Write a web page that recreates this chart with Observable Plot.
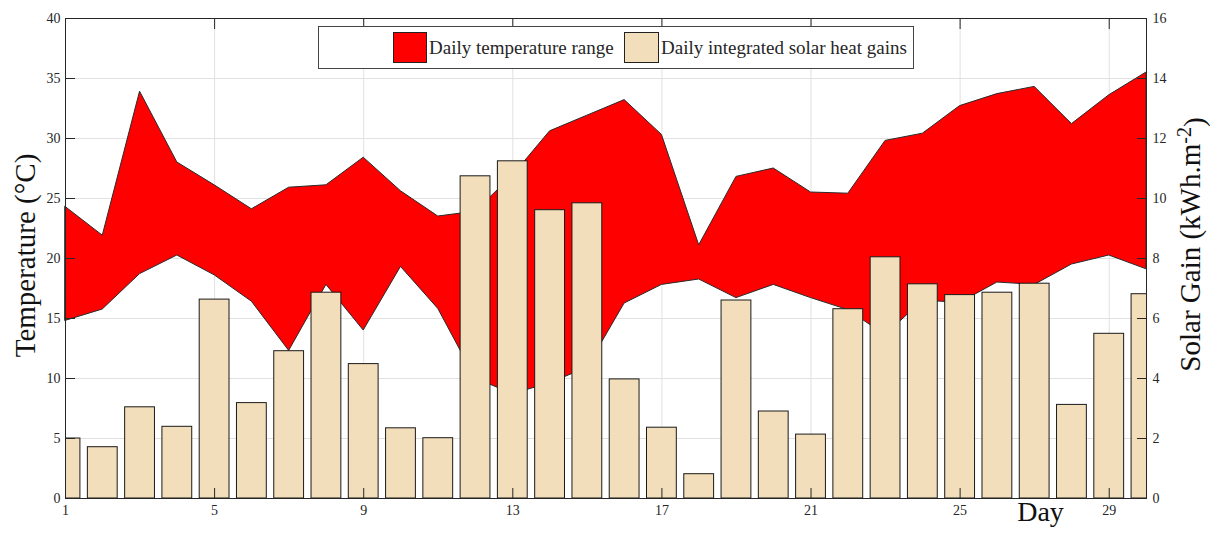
<!DOCTYPE html>
<html>
<head>
<meta charset="utf-8">
<script src="https://cdn.jsdelivr.net/npm/d3@7"></script>
<script src="https://cdn.jsdelivr.net/npm/@observablehq/plot@0.6"></script>
<style>
  html, body { margin: 0; padding: 0; background: #fff; }
  #wrap { position: relative; width: 1210px; height: 533px; font-family: "Liberation Serif", serif; }
  #legend { position: absolute; left: 318px; top: 26px; width: 596px; height: 43px; box-sizing: border-box;
            border: 1px solid #444; background: #fff; }
  .sw { position: absolute; top: 5px; height: 31px; box-sizing: border-box; border: 1px solid #222; }
  .lt { position: absolute; top: 0; height: 41px; line-height: 41px; font-size: 19px; color: #262626; white-space: nowrap; }
</style>
</head>
<body>
<div id="wrap">
  <div id="chart"></div>
  <div id="legend">
    <div class="sw" style="left:74px;width:34px;background:#ff0000"></div>
    <div class="lt" style="left:110px">Daily temperature range</div>
    <div class="sw" style="left:305px;width:35px;background:#f2deba"></div>
    <div class="lt" style="left:342px">Daily integrated solar heat gains</div>
  </div>
</div>
<script>
const days = [1,2,3,4,5,6,7,8,9,10,11,12,13,14,15,16,17,18,19,20,21,22,23,24,25,26,27,28,29,30];
const tMax = [24.3,21.9,33.9,28.0,26.1,24.1,25.9,26.1,28.4,25.6,23.5,23.9,26.9,30.6,31.9,33.2,30.3,21.1,26.8,27.5,25.5,25.4,29.8,30.4,32.7,33.7,34.3,31.2,33.6,35.5];
const tMin = [14.8,15.75,18.7,20.25,18.6,16.4,12.3,17.8,14.0,19.3,15.8,10.0,8.7,9.6,10.9,16.25,17.8,18.25,16.7,17.8,16.7,15.7,13.6,16.5,16.3,18.0,17.8,19.5,20.25,19.1];
const solar = [2.0,1.71,3.04,2.39,6.63,3.18,4.91,6.86,4.48,2.34,2.01,10.74,11.24,9.61,9.84,3.97,2.36,0.81,6.6,2.9,2.13,6.31,8.04,7.14,6.78,6.86,7.16,3.12,5.49,6.81];
const xTicks = [1,5,9,13,17,21,25,29];
const tempTicks = [0,5,10,15,20,25,30,35,40];
const solarTicks = [0,2,4,6,8,10,12,14,16];
const tempLabel = "Temperature (°C)";
const solarLabel = "Solar Gain (kWh.m-2)";
const dayLabel = "Day";

const k = 40 / 16; // solar axis -> temperature axis
const rows = days.map((d, i) => ({day: d, tmin: tMin[i], tmax: tMax[i], solar: solar[i]}));
const ink = "#262626";
const gridColor = "#e1e1e1";
const tickFont = 14;

const chart = Plot.plot({
  width: 1210, height: 533,
  marginLeft: 65, marginRight: 64, marginTop: 18, marginBottom: 35,
  x: {domain: [1, 30]},
  y: {domain: [0, 40]},
  style: {fontFamily: "'Liberation Serif', serif", fontSize: "14px", color: ink, background: "#fff", overflow: "visible"},
  marks: [
    Plot.gridX(xTicks, {stroke: gridColor, strokeOpacity: 1}),
    Plot.gridY(tempTicks, {stroke: gridColor, strokeOpacity: 1}),
    Plot.areaY(rows, {x: "day", y1: "tmin", y2: "tmax", fill: "#ff0000", stroke: "#2a2a2a", strokeWidth: 1}),
    Plot.rect(rows, {x1: d => d.day - 0.4, x2: d => d.day + 0.4, y1: 0, y2: d => d.solar * k,
      fill: "#f2deba", stroke: "#1a1a1a", strokeWidth: 1, clip: true}),
    Plot.frame({stroke: ink, strokeWidth: 1}),
    Plot.axisX(xTicks, {anchor: "bottom", tickSize: -10, tickPadding: 17, label: null, stroke: ink, fontSize: tickFont}),
    Plot.axisX(xTicks, {anchor: "top", tickSize: -10, tickFormat: () => "", label: null, stroke: ink}),
    Plot.axisY(tempTicks, {anchor: "left", tickSize: -10, tickPadding: 15, label: null, stroke: ink, fontSize: tickFont}),
    Plot.axisY(solarTicks.map(v => v * k), {anchor: "right", tickSize: -10, tickPadding: 16, tickFormat: d => String(Math.round(d / k)), label: null, stroke: ink, fontSize: tickFont}),
    Plot.text([tempLabel], {frameAnchor: "left", textAnchor: "middle", rotate: -90, dx: -40, dy: -3, fontSize: 29, fill: "#111"}),
    Plot.text([solarLabel], {frameAnchor: "right", textAnchor: "middle", rotate: -90, dx: 44, dy: -14, fontSize: 29, fill: "#111"}),
    Plot.text([dayLabel], {frameAnchor: "bottom-right", textAnchor: "middle", dx: -106, dy: 22, fontSize: 28, fill: "#111"})
  ]
});
document.getElementById("chart").appendChild(chart);

// superscript for the unit on the right title
d3.select(chart).selectAll("text").filter(function() { return this.textContent === solarLabel; }).each(function() {
  const t = d3.select(this);
  t.text("");
  t.append("tspan").text("Solar Gain (kWh.m");
  t.append("tspan").attr("dy", "-0.45em").attr("font-size", "20").text("-2");
  t.append("tspan").attr("dy", "0.45em").text(")");
});
</script>
</body>
</html>
